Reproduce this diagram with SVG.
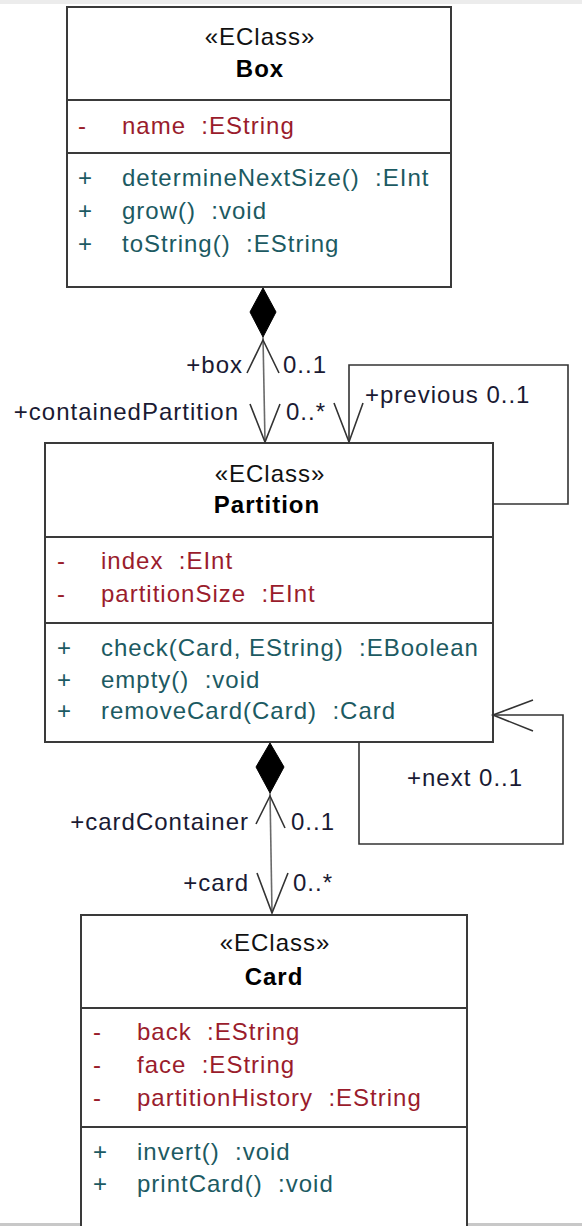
<svg xmlns="http://www.w3.org/2000/svg" width="582" height="1226" viewBox="0 0 582 1226">
  <style>
    text { font-family: "Liberation Sans", Arial, sans-serif; font-size: 24px; letter-spacing: 1px; white-space: pre; }
    .frame { fill: #ffffff; stroke: #3a3a3a; stroke-width: 2; }
    .div { stroke: #3a3a3a; stroke-width: 2; }
    .st { fill: #111111; text-anchor: middle; }
    .nm { fill: #000000; font-weight: bold; text-anchor: middle; }
    .attr { fill: #9a1c2c; }
    .op { fill: #1c5a62; }
    .lbl { fill: #1a1a33; }
    .end { text-anchor: end; }
    .wire { fill: none; stroke: #333333; stroke-width: 1.6; }
    .comp { fill: none; stroke: #6a6a6a; stroke-width: 1.6; }
    .head { fill: none; stroke: #333333; stroke-width: 1.6; }
    .diamond { fill: #000000; stroke: #000000; stroke-width: 1; }
  </style>

  <rect x="0" y="0" width="582" height="1226" fill="#ffffff"/>
  <rect x="0" y="0" width="582" height="4" fill="#ececec"/>
  <rect x="0" y="1223" width="582" height="3" fill="#c8c8c8"/>

  <!-- Box -->
  <g id="box">
    <rect class="frame" x="67" y="7" width="384" height="280"/>
    <line class="div" x1="67" y1="100" x2="451" y2="100"/>
    <line class="div" x1="67" y1="153" x2="451" y2="153"/>
    <text class="st" x="260" y="45">«EClass»</text>
    <text class="nm" x="260" y="77">Box</text>
    <text class="attr" x="78" y="134">-</text>
    <text class="attr" x="122" y="134">name  :EString</text>
    <text class="op" x="78" y="186">+</text>
    <text class="op" x="122" y="186">determineNextSize()  :EInt</text>
    <text class="op" x="78" y="219">+</text>
    <text class="op" x="122" y="219">grow()  :void</text>
    <text class="op" x="78" y="252">+</text>
    <text class="op" x="122" y="252">toString()  :EString</text>
  </g>

  <!-- Partition -->
  <g id="partition">
    <rect class="frame" x="45" y="443" width="448" height="299"/>
    <line class="div" x1="45" y1="537" x2="493" y2="537"/>
    <line class="div" x1="45" y1="623" x2="493" y2="623"/>
    <text class="st" x="270" y="482">«EClass»</text>
    <text class="nm" x="267" y="513">Partition</text>
    <text class="attr" x="57" y="569">-</text>
    <text class="attr" x="101" y="569">index  :EInt</text>
    <text class="attr" x="57" y="602">-</text>
    <text class="attr" x="101" y="602">partitionSize  :EInt</text>
    <text class="op" x="57" y="656">+</text>
    <text class="op" x="101" y="656">check(Card, EString)  :EBoolean</text>
    <text class="op" x="57" y="688">+</text>
    <text class="op" x="101" y="688">empty()  :void</text>
    <text class="op" x="57" y="719">+</text>
    <text class="op" x="101" y="719">removeCard(Card)  :Card</text>
  </g>

  <!-- Card -->
  <g id="card">
    <rect class="frame" x="81" y="915" width="386" height="320"/>
    <line class="div" x1="81" y1="1008" x2="467" y2="1008"/>
    <line class="div" x1="81" y1="1127" x2="467" y2="1127"/>
    <text class="st" x="275" y="951">«EClass»</text>
    <text class="nm" x="274" y="985">Card</text>
    <text class="attr" x="93" y="1040">-</text>
    <text class="attr" x="137" y="1040">back  :EString</text>
    <text class="attr" x="93" y="1073">-</text>
    <text class="attr" x="137" y="1073">face  :EString</text>
    <text class="attr" x="93" y="1106">-</text>
    <text class="attr" x="137" y="1106">partitionHistory  :EString</text>
    <text class="op" x="93" y="1160">+</text>
    <text class="op" x="137" y="1160">invert()  :void</text>
    <text class="op" x="93" y="1192">+</text>
    <text class="op" x="137" y="1192">printCard()  :void</text>
  </g>

  <!-- Associations -->
  <g id="connectors">
    <!-- Box <>-> Partition (box / containedPartition) -->
    <line class="comp" x1="263" y1="337" x2="265" y2="442"/>
    <polygon class="diamond" points="263,288 276,312 263,337 250,312"/>
    <polyline class="head" points="247,373 263,340 279,373"/>
    <polyline class="head" points="250,404 265,442 280,404"/>
    <text class="lbl end" x="243" y="373">+box</text>
    <text class="lbl" x="283" y="373">0..1</text>
    <text class="lbl end" x="239" y="420">+containedPartition</text>
    <text class="lbl" x="286" y="420">0..*</text>

    <!-- Partition.previous self reference -->
    <polyline class="wire" points="493,504 568,504 568,365 349,365 349,442"/>
    <polyline class="head" points="334,403 349,442 363,403"/>
    <text class="lbl" x="365" y="403">+previous 0..1</text>

    <!-- Partition.next self reference -->
    <polyline class="wire" points="359,742 359,844 563,844 563,715 493,715"/>
    <polyline class="head" points="533,700 493,715 533,731"/>
    <text class="lbl" x="407" y="786">+next 0..1</text>

    <!-- Partition <>-> Card (cardContainer / card) -->
    <line class="comp" x1="270" y1="793" x2="272" y2="913"/>
    <polygon class="diamond" points="270,743 284,767 270,793 256,767"/>
    <polyline class="head" points="256,824 270,796 285,828"/>
    <polyline class="head" points="257,873 272,913 288,873"/>
    <text class="lbl end" x="249" y="830">+cardContainer</text>
    <text class="lbl" x="291" y="830">0..1</text>
    <text class="lbl end" x="249" y="891">+card</text>
    <text class="lbl" x="293" y="891">0..*</text>
  </g>
</svg>
